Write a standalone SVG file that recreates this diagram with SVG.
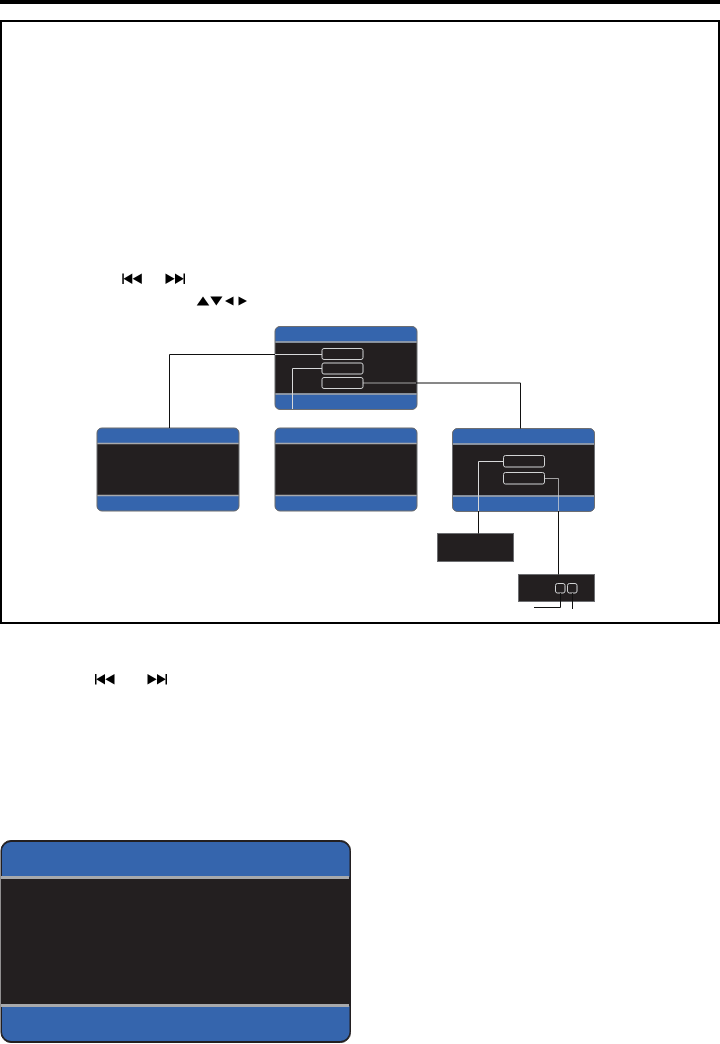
<svg xmlns="http://www.w3.org/2000/svg" width="720" height="1044" viewBox="0 0 720 1044">
<style>
.scr{fill:#231f20}
.frame{fill:none;stroke:#6d6e71;stroke-width:1}
.bar{fill:#3565ad}
.sep{stroke:#a7a9ac;stroke-width:1.3;fill:none}
.btn{fill:#231f20;stroke:#d1d3d4;stroke-width:1}
.k{fill:none;stroke:#111;stroke-width:1}
.w{fill:none;stroke:#d8d9da;stroke-width:1}
.ic{fill:#000}
</style>
<defs>
<clipPath id="s"><rect x="0" y="0" width="142" height="83" rx="5"/></clipPath>
<g id="screen">
<rect class="scr" width="142" height="83" rx="5"/>
<g clip-path="url(#s)"><rect class="bar" width="142" height="16"/><rect class="bar" y="67" width="142" height="16"/></g>
<path class="sep" d="M0 15.500H142M0 67.500H142"/>
<rect class="frame" x="0" y="0" width="142" height="83" rx="5"/>
</g>
<g id="prev"><rect x="0" y="0" width="1.500" height="10.500"/><path d="M1.200 5.200 10 0V10.500ZM10.300 5.200 19.500 0V10.500Z"/></g>
<g id="next"><rect x="18.500" y="0" width="1.500" height="10.500"/><path d="M18.800 5.200 10 0V10.500ZM9.700 5.200 0.500 0V10.500Z"/></g>
</defs>
<rect width="720" height="1044" fill="#fff"/>
<rect id="top-rule" x="0" y="0" width="720" height="4" fill="#000"/>
<rect id="panel" x="1" y="21" width="718" height="602" fill="none" stroke="#000" stroke-width="2"/>
<g id="icons" class="ic">
<use href="#prev" x="122.300" y="273.500"/><use href="#next" x="165" y="273.500"/>
<path d="M203 296.500 209.300 305.500H196.700Z"/><path d="M216.300 305.500 210.300 296.500H222.500Z"/>
<path d="M225 301 233.500 296.500V305.500Z"/><path d="M247 301 238.500 296.500V305.500Z"/>
<use href="#prev" x="95" y="674"/><use href="#next" x="147" y="674"/>
</g>
<g id="node-top"><use href="#screen" x="275" y="326.500"/>
<rect class="btn" x="322" y="348.500" width="41" height="11" rx="2"/>
<rect class="btn" x="322" y="363" width="41" height="11" rx="2"/>
<rect class="btn" x="322" y="377.500" width="41" height="11" rx="2"/></g>
<g id="node-left"><use href="#screen" x="97" y="428"/></g>
<g id="node-middle"><use href="#screen" x="275" y="428"/></g>
<g id="node-right"><use href="#screen" x="452.500" y="428.500"/>
<rect class="btn" x="503.500" y="455.500" width="41" height="11.500" rx="2"/>
<rect class="btn" x="503.500" y="472.500" width="41" height="11.500" rx="2"/></g>
<g id="node-box1"><rect x="437.500" y="533.500" width="76" height="28" fill="#231f20" stroke="#6d6e71"/></g>
<g id="node-box2"><rect x="518.500" y="574.500" width="76" height="27" fill="#231f20" stroke="#6d6e71"/>
<rect class="btn" x="555.500" y="583.500" width="9.500" height="9.500" rx="2"/>
<rect class="btn" x="567.500" y="583.500" width="9.500" height="9.500" rx="2"/></g>
<g id="node-large">
<rect x="1" y="840.500" width="349.500" height="202" rx="10" fill="#231f20" stroke="#231f20"/>
<path class="bar" d="M2 877V851a9 9 0 0 1 9-9H340.500a9 9 0 0 1 9 9V877ZM2 1006H349.500V1032a9 9 0 0 1-9 9H11a9 9 0 0 1-9-9Z"/>
<path d="M1 877.500H349M1 1005.500H349" stroke="#a7a9ac" stroke-width="3" fill="none"/>
</g>
<g id="connectors">
<path class="k" d="M169.500 428V354.500H275"/>
<path class="w" d="M275 354.500H322"/>
<path class="w" d="M322 368.500H292.500V409"/>
<path class="w" stroke-opacity=".7" d="M363 383H416"/>
<path class="k" d="M416 383H520.500V428.500"/>
<path class="w" d="M503.500 461.500H478.500V511"/>
<path class="k" d="M478.500 511V533.500"/>
<path class="w" stroke-opacity=".7" d="M544.500 478.500H558.500V511"/>
<path class="k" d="M558.500 511V574.500"/>
<path class="k" d="M560.500 593V607.500H534"/>
<path class="k" d="M572.500 593V609"/>
</g>
</svg>
